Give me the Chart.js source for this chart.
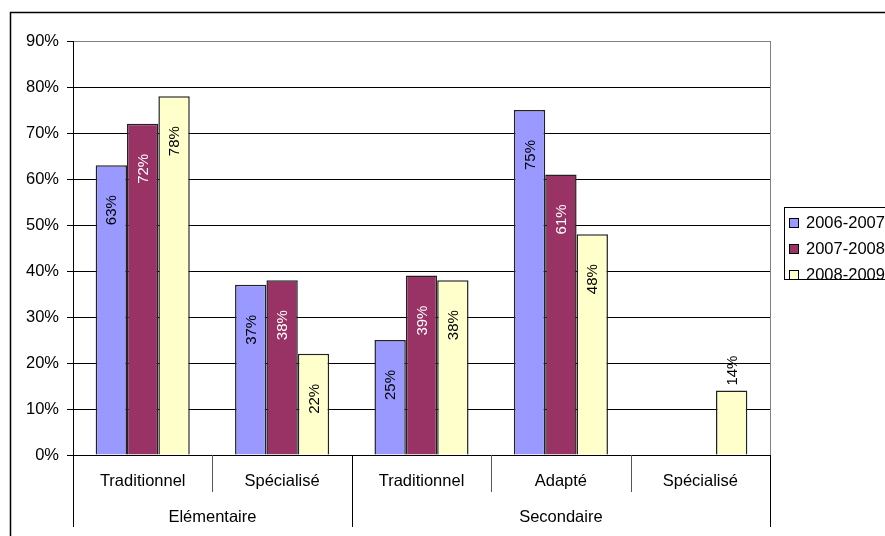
<!DOCTYPE html>
<html>
<head>
<meta charset="utf-8">
<script src="https://cdn.jsdelivr.net/npm/chart.js@4/dist/chart.umd.min.js"></script>
<style>
  html, body { margin: 0; padding: 0; background: #fff; overflow: hidden; }
  canvas { display: block; }
</style>
</head>
<body>
<canvas id="chart" width="885" height="536"></canvas>
<script>
// chart values
const categories = ['Traditionnel', 'Spécialisé', 'Traditionnel', 'Adapté', 'Spécialisé'];
const groups = ['Elémentaire', 'Secondaire'];
const groupSpans = [2, 3];
const seriesNames = ['2006-2007', '2007-2008', '2008-2009'];
const values0607 = [63, 37, 25, 75, null];
const values0708 = [72, 38, 39, 61, null];
const values0809 = [78, 22, 38, 48, 14];
const yMax = 90;
const yStep = 10;

const colors = ['#9999ff', '#993366', '#ffffcc'];
const labelColors = ['#000', '#fff', '#000'];
const FONT = '"Liberation Sans", Arial, sans-serif';

// outer frame, plot border and the two level category axis
const framePlugin = {
    id: 'frame',
    afterDraw(chart) {
        const ctx = chart.ctx;
        const area = chart.chartArea;
        const x = chart.scales.x;
        ctx.save();
        ctx.strokeStyle = '#000';
        ctx.lineWidth = 1.5;
        ctx.strokeRect(10.5, 12.5, 1000, 1000);

        // right border of the plot
        ctx.lineWidth = 1;
        ctx.strokeStyle = '#808080';
        ctx.beginPath();
        ctx.moveTo(Math.round(area.right) + 0.5, area.top);
        ctx.lineTo(Math.round(area.right) + 0.5, area.bottom);
        ctx.stroke();

        // category boundaries
        const n = categories.length;
        const bounds = [area.left];
        for (let i = 0; i < n - 1; i++) {
            bounds.push((x.getPixelForTick(i) + x.getPixelForTick(i + 1)) / 2);
        }
        bounds.push(area.right);

        const groupEdges = [0];
        groupSpans.forEach((s, i) => groupEdges.push(groupEdges[i] + s));

        bounds.forEach((b, i) => {
            const full = groupEdges.includes(i);
            const px = Math.round(b) + 0.5;
            ctx.strokeStyle = full ? '#000' : '#555';
            ctx.beginPath();
            ctx.moveTo(px, area.bottom);
            ctx.lineTo(px, full ? 527 : 492);
            ctx.stroke();
        });

        ctx.fillStyle = '#000';
        ctx.font = '16.5px ' + FONT;
        ctx.textAlign = 'center';
        ctx.textBaseline = 'middle';
        categories.forEach((c, i) => {
            ctx.fillText(c, x.getPixelForTick(i), 481);
        });
        groups.forEach((g, i) => {
            const l = bounds[groupEdges[i]];
            const r = bounds[groupEdges[i + 1]];
            ctx.fillText(g, (l + r) / 2, 517);
        });
        ctx.restore();
    }
};

// rotated value labels
const valueLabels = {
    id: 'valueLabels',
    afterDatasetsDraw(chart) {
        const ctx = chart.ctx;
        ctx.save();
        ctx.font = '15px ' + FONT;
        ctx.textAlign = 'center';
        ctx.textBaseline = 'middle';
        chart.data.datasets.forEach((ds, di) => {
            const meta = chart.getDatasetMeta(di);
            meta.data.forEach((bar, i) => {
                const v = ds.data[i];
                if (v === null || v === undefined) return;
                const h = bar.base - bar.y;
                let cy, color;
                if (h < 80) {
                    cy = bar.y - 20;
                    color = '#000';
                } else {
                    cy = bar.y + 45;
                    color = labelColors[di];
                }
                ctx.save();
                ctx.translate(bar.x, cy);
                ctx.rotate(-Math.PI / 2);
                ctx.fillStyle = color;
                ctx.fillText(v + '%', 0, 1);
                ctx.restore();
            });
        });
        ctx.restore();
    }
};

// boxed legend on the right, cut by the page edge
const boxLegend = {
    id: 'boxLegend',
    afterDraw(chart) {
        const ctx = chart.ctx;
        ctx.save();
        ctx.strokeStyle = '#000';
        ctx.lineWidth = 1;
        ctx.strokeRect(784.5, 207.5, 200, 72);
        ctx.font = '16.5px ' + FONT;
        ctx.textBaseline = 'middle';
        ctx.textAlign = 'left';
        chart.data.datasets.forEach((ds, i) => {
            const cy = 223 + i * 26;
            ctx.fillStyle = ds.backgroundColor;
            ctx.fillRect(789.5, cy - 4.5, 9, 9);
            ctx.strokeStyle = '#000';
            ctx.strokeRect(789.5, cy - 4.5, 9, 9);
            ctx.fillStyle = '#000';
            ctx.fillText(ds.label, 806, cy);
        });
        ctx.restore();
    }
};

const seriesValues = [values0607, values0708, values0809];

new Chart(document.getElementById('chart'), {
    type: 'bar',
    data: {
        labels: categories,
        datasets: seriesNames.map((name, i) => ({
            label: name,
            data: seriesValues[i],
            backgroundColor: colors[i],
            borderColor: '#222',
            borderWidth: 1.5,
            categoryPercentage: 0.675,
            barPercentage: 1
        }))
    },
    options: {
        responsive: false,
        animation: false,
        devicePixelRatio: 1,
        layout: { padding: { top: 41, right: 115, left: 0, bottom: 0 } },
        plugins: {
            legend: { display: false },
            tooltip: { enabled: false }
        },
        scales: {
            x: {
                ticks: { display: false },
                grid: { display: false },
                border: { color: '#000', width: 1 },
                afterFit: s => { s.height = 81; }
            },
            y: {
                min: 0,
                max: yMax,
                ticks: {
                    stepSize: yStep,
                    callback: v => v + '%',
                    color: '#000',
                    font: { family: FONT, size: 16.5 },
                    padding: 8
                },
                grid: {
                    color: c => (c.tick && c.tick.value === yMax) ? '#808080' : '#000',
                    tickColor: '#000',
                    tickLength: 6,
                    lineWidth: 1
                },
                border: { color: '#000', width: 1 },
                afterFit: s => { s.width = 73; }
            }
        }
    },
    plugins: [framePlugin, valueLabels, boxLegend]
});
</script>
</body>
</html>
